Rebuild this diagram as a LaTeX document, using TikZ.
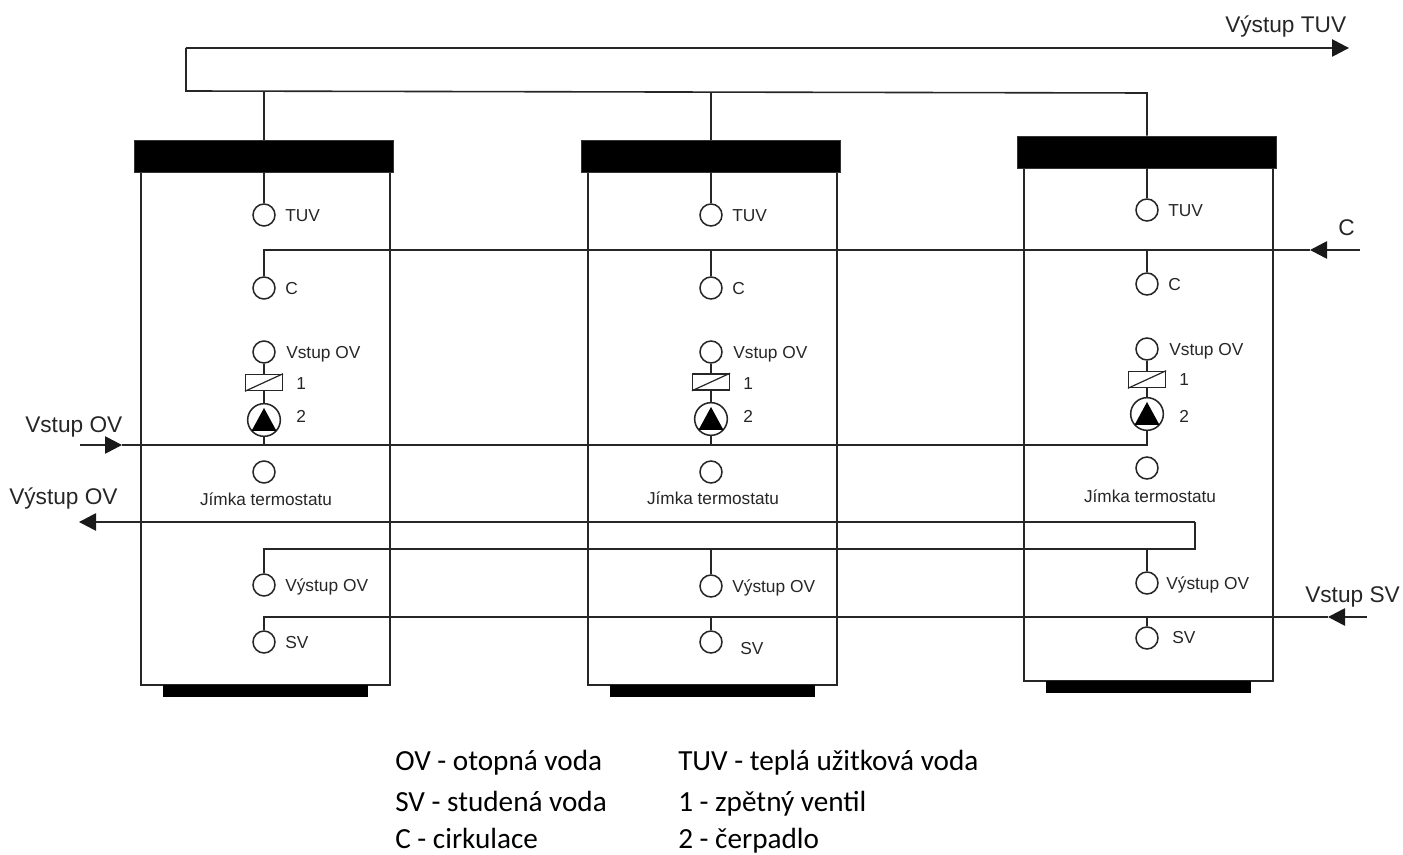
\documentclass[tikz,border=0pt]{standalone}
\usepackage{fontspec}
\setmainfont{Liberation Sans}
\newfontfamily\legendfont{Carlito}
\usetikzlibrary{arrows.meta,calc}
\definecolor{ink}{HTML}{262626}
\tikzset{
  pipe/.style={draw=ink,line width=1.2pt},
  tipped/.style={pipe,-{Triangle[length=12.75pt,width=13pt,color=black!90]}},
  capbox/.style={draw=black!80,line width=.4pt,fill=black,minimum width=194pt,minimum height=24pt,inner sep=0pt},
  bodybox/.style={draw=ink,line width=1.2pt,minimum width=186.75pt,minimum height=384.75pt,inner sep=0pt},
  footbox/.style={fill=black,minimum width=153.75pt,minimum height=9pt,inner sep=0pt},
  port/.style={circle,draw=ink,line width=1.15pt,fill=white,minimum size=16.5pt,inner sep=0pt},
  valvebox/.style={draw=ink,line width=1.15pt,fill=white,minimum width=27.5pt,minimum height=12pt,inner sep=0pt},
  pumpc/.style={circle,draw=ink,line width=1.15pt,fill=white,minimum size=24.5pt,inner sep=0pt},
  tag/.style={anchor=base west,inner sep=0pt,font=\fontsize{13pt}{15pt}\selectfont,text=ink},
  jtag/.style={anchor=base,inner sep=0pt,font=\fontsize{12.9pt}{15pt}\selectfont,text=ink},
  outer/.style={anchor=base west,inner sep=0pt,font=\fontsize{17pt}{20pt}\selectfont,text=ink},
  legend/.style={anchor=base west,inner sep=0pt,font=\legendfont\fontsize{21.9pt}{26pt}\selectfont,text=black},
}
\begin{document}
\begin{tikzpicture}[x=0.75pt,y=-0.75pt]
\useasboundingbox (0,0) rectangle (1403,855);

% free ends of the manifolds
\coordinate (topCorner) at (186,48);
\coordinate (topTip) at (1349,48);
\coordinate (botCorner) at (186,91);
\coordinate (botEnd) at (1147,93);
\coordinate (cEnd) at (1360,250);
\coordinate (cTip) at (1310,250);
\coordinate (inEnd) at (80,445);
\coordinate (inTip) at (122,445);
\coordinate (outTip) at (79,522);
\coordinate (boxTR) at (1195,522);
\coordinate (boxBR) at (1195,549);
\coordinate (svEnd) at (1367,617);
\coordinate (svTip) at (1328,617);

% tanks: name / x / cap top / TUV / C / Vstup / valve / pump / Jimka / Jimka label / Vystup / SV / SV label x / SV label base
\foreach \n/\cx/\ct/\tuv/\cc/\vs/\vv/\pu/\ji/\jl/\vy/\sv/\svx/\svl/\ox/\jx/\lo/\lt in {
  a/264/140/215/288/352/382.5/420/472/505/585/642/21/648/21/2/390/423,
  b/711/140/215/288/352/382/419/472/504/586/642/29/654/21/2/390/423,
  c/1147/136/210/284/349/379.5/414/468/502/583/638/25/643/19/3/386/422}{
  \node[bodybox] (body\n) at (\cx+1.5,\ct+288.5) {};
  \node[capbox] (cap\n) at (\cx,\ct+16) {};
  \node[footbox] (foot\n) at (\cx+1.5,\ct+551) {};
  \node[port] (tuv\n) at (\cx,\tuv) {};
  \node[port] (cir\n) at (\cx,\cc) {};
  \node[port] (vin\n) at (\cx,\vs) {};
  \node[valvebox] (valve\n) at (\cx,\vv) {};
  \node[pumpc] (pump\n) at (\cx,\pu) {};
  \node[port] (jim\n) at (\cx,\ji) {};
  \node[port] (vout\n) at (\cx,\vy) {};
  \node[port] (sv\n) at (\cx,\sv) {};
  \fill[black] (\cx,\pu-12) -- (\cx+12.5,\pu+11) -- (\cx-12.5,\pu+11) -- cycle;
  \draw[ink,line width=.9pt] (valve\n.south west) -- (valve\n.north east);
  \draw[pipe] (cap\n.south) -- (tuv\n.north);
  \draw[pipe] (vin\n.south) -- (valve\n.north);
  \draw[pipe] (valve\n.south) -- (pump\n.north);
  \node[tag] (ltuv\n) at (\cx+21,\tuv+7) {TUV};
  \node[tag] (lcir\n) at (\cx+21,\cc+7) {C};
  \node[tag] (lvin\n) at (\cx+22,\vs+6.5) {Vstup OV};
  \node[tag] (lone\n) at (\cx+32,\lo) {1};
  \node[tag] (ltwo\n) at (\cx+32,\lt) {2};
  \node[jtag] (ljim\n) at (\cx+\jx,\jl) {Jímka termostatu};
  \node[tag] (lout\n) at (\cx+\ox,\vy+6) {Výstup OV};
  \node[tag] (lsv\n) at (\cx+\svx,\svl) {SV};
}

% TUV outlet manifold
\draw[tipped] (topCorner) -- (topTip);
\draw[pipe,line join=miter] (topCorner) -- (botCorner) -- (botEnd) -- (capc.north);
\draw[pipe] (capa.north) -- (capa.north |- botCorner);
\draw[pipe] (capb.north) -- ($(capb.north |- botCorner)+(0,1)$);

% circulation
\draw[tipped] (cEnd) -- (cTip);
\draw[pipe] (cTip) -| (cira.north);
\draw[pipe] (cirb.north) -- (cirb.north |- cTip);
\draw[pipe] (circ.north) -- (circ.north |- cTip);

% heating water in
\draw[tipped] (inEnd) -- (inTip);
\draw[pipe] (inTip) -| (pumpc.south);
\draw[pipe] (pumpa.south) -- (pumpa.south |- inTip);
\draw[pipe] (pumpb.south) -- (pumpb.south |- inTip);

% heating water out
\draw[tipped] (boxTR) -- (outTip);
\draw[pipe] (boxTR) -- (boxBR) -| (vouta.north);
\draw[pipe] (voutb.north) -- (voutb.north |- boxBR);
\draw[pipe] (voutc.north) -- (voutc.north |- boxBR);

% cold water in
\draw[tipped] (svEnd) -- (svTip);
\draw[pipe] (svTip) -| (sva.north);
\draw[pipe] (svb.north) -- (svb.north |- svTip);
\draw[pipe] (svc.north) -- (svc.north |- svTip);

% outer labels
\node[outer] (lTopOut) at (1225,33) {Výstup TUV};
\node[outer] (lC) at (1338,236) {C};
\node[outer] (lVin) at (25,432) {Vstup OV};
\node[outer] (lVout) at (9,504) {Výstup OV};
\node[outer] (lSv) at (1305,602) {Vstup SV};

% legend
\node[legend] (k1) at (395,770) {OV - otopná voda};
\node[legend] (k2) at (395,811) {SV - studená voda};
\node[legend] (k3) at (395,848.5) {C - cirkulace};
\node[legend] (k4) at (678,770) {TUV - teplá užitková voda};
\node[legend] (k5) at (678,811) {1 - zpětný ventil};
\node[legend] (k6) at (678,848.5) {2 - čerpadlo};
\end{tikzpicture}
\end{document}
